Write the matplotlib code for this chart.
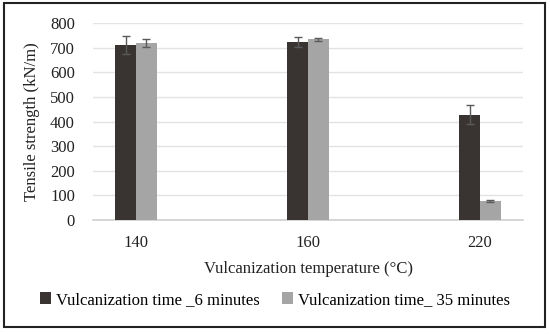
import matplotlib
matplotlib.use("Agg")
import matplotlib.pyplot as plt
import numpy as np
from matplotlib.patches import Rectangle

categories = ["140", "160", "220"]
series_names = ["Vulcanization time _6 minutes", "Vulcanization time_ 35 minutes"]
vals_6 = [711, 724, 428]
err_6 = [38, 20, 40]
vals_35 = [718, 734, 78]
err_35 = [17, 7, 5]

plt.rcParams['font.family'] = ['Liberation Serif', 'DejaVu Serif']

fig = plt.figure(figsize=(5.5, 3.34), dpi=100)
ax = fig.add_axes([93/550, 1 - 220/334, (523-93)/550, (220-23)/334])

x = np.arange(len(categories))
w = 0.122
c_dark = "#393431"
c_light = "#a5a5a5"
ekw = dict(ecolor="#5a5a5a", elinewidth=1.0, capsize=3, capthick=1.0)
b1 = ax.bar(x - w/2, vals_6, w, color=c_dark, yerr=err_6, error_kw=ekw, label=series_names[0], zorder=3)
b2 = ax.bar(x + w/2, vals_35, w, color=c_light, yerr=err_35, error_kw=ekw, label=series_names[1], zorder=3)

ax.set_xlim(-0.25, 2.25)
ax.set_ylim(0, 800)
ax.set_yticks(range(0, 801, 100))
ax.set_xticks(x)
ax.set_xticklabels(categories)
ax.yaxis.grid(True, color="#e3e3e3", linewidth=1, zorder=0)
for s in ["top", "right", "left"]:
    ax.spines[s].set_visible(False)
ax.spines["bottom"].set_color("#d0d0d0")
ax.spines["bottom"].set_linewidth(1.2)
ax.tick_params(axis="both", length=0, labelsize=12, colors="#222222")
ax.tick_params(axis="y", pad=13)
ax.tick_params(axis="x", pad=11)
ax.set_ylabel("Tensile strength (kN/m)", fontsize=12, color="#222222", labelpad=7)
ax.set_xlabel("Vulcanization temperature (°C)", fontsize=12, color="#222222", labelpad=7)

fig.legend(handles=[b1, b2], labels=series_names, loc="center", bbox_to_anchor=(0.5, 1 - 300/334),
           ncol=2, frameon=False, fontsize=12, handlelength=0.7, handleheight=0.7,
           handletextpad=0.3, columnspacing=1.3)

fig.patches.append(Rectangle((4/550, 1 - 327/334), (545-4)/550, (327-3)/334, transform=fig.transFigure,
                             fill=False, edgecolor="#222222", linewidth=1.5, zorder=10))

fig.savefig("out.png", dpi=100)
